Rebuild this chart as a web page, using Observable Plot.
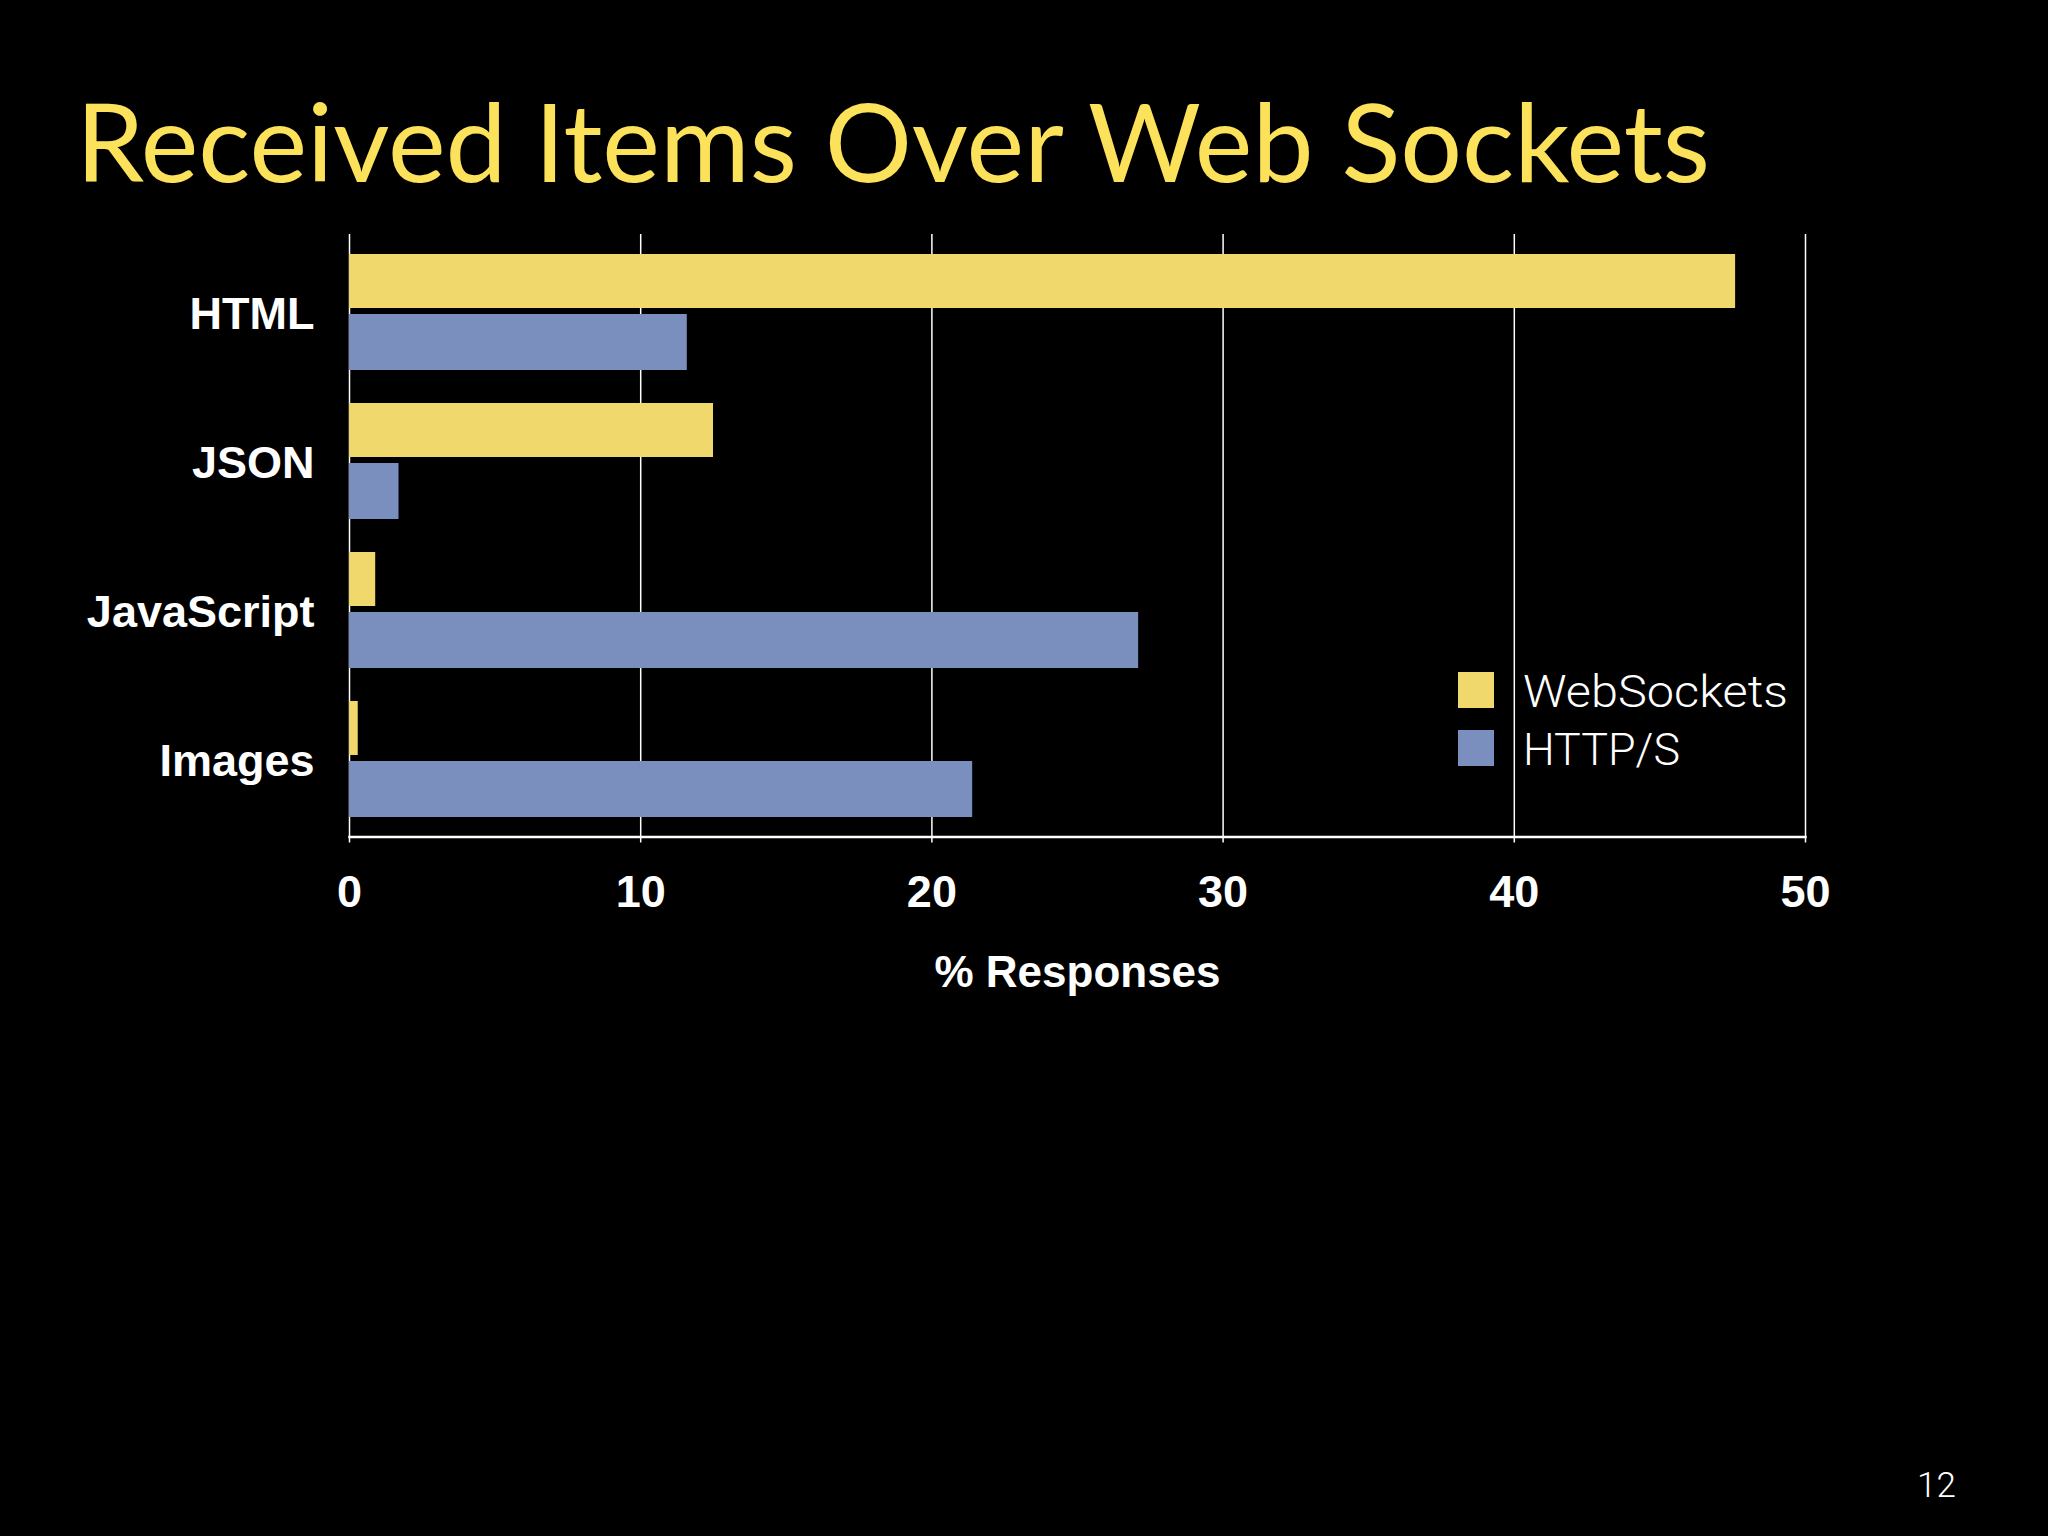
<!DOCTYPE html>
<html>
<head>
<meta charset="utf-8">
<script src="https://cdn.jsdelivr.net/npm/d3@7"></script>
<script src="https://cdn.jsdelivr.net/npm/@observablehq/plot@0.6"></script>
<style>
  html, body { margin: 0; padding: 0; background: #000; }
  #page { position: relative; width: 2048px; height: 1536px; background: #000; overflow: hidden; }
  #chart { position: absolute; left: 0; top: 200px; }
  #overlay { position: absolute; left: 0; top: 0; pointer-events: none; }
</style>
</head>
<body>
<div id="page">
  <div id="chart"></div>
  <svg id="overlay" width="2048" height="1536"></svg>
</div>
<script>
// ---- data ----
const categories = ["HTML", "JSON", "JavaScript", "Images"];
const webSockets = [47.6, 12.5, 0.9, 0.3];
const httpS = [11.6, 1.7, 27.1, 21.4];
const seriesNames = ["WebSockets", "HTTP/S"];
const xTicks = [0, 10, 20, 30, 40, 50];
const titleText = "Received Items Over Web Sockets";
const axisLabel = "% Responses";
const pageNumber = "12";

// ---- styles ----
const yellow = "#f1d86c";
const blue = "#7b8fbf";
const titleColor = "#fce25a";
const boldFont = "'Liberation Sans', Arial, Helvetica, sans-serif";

const wsRows = categories.map((c, i) => ({category: c, series: seriesNames[0], value: webSockets[i]}));
const httpRows = categories.map((c, i) => ({category: c, series: seriesNames[1], value: httpS[i]}));

const chart = Plot.plot({
  width: 2048,
  height: 820,
  marginLeft: 349,
  marginRight: 243,
  marginTop: 34,
  marginBottom: 183.5,
  style: {background: "#000", color: "#fff", fontFamily: boldFont, overflow: "visible"},
  x: {domain: [0, 50]},
  y: {domain: categories, paddingInner: 0.224, paddingOuter: 0.127, align: 0.5},
  marks: [
    Plot.ruleX(xTicks, {stroke: "#fff", strokeWidth: 1.5}),
    Plot.barX(wsRows, {y: "category", x: "value", fill: yellow, insetBottom: 62}),
    Plot.barX(httpRows, {y: "category", x: "value", fill: blue, insetTop: 60}),
    Plot.frame({anchor: "bottom", stroke: "#fff", strokeWidth: 2.5}),
    Plot.axisX({ticks: xTicks, tickSize: 6, tickPadding: 32, stroke: "#fff", strokeWidth: 1.5,
      fontSize: 45, fontWeight: "bold", label: null, tickFormat: d => String(d)}),
    Plot.axisY({tickSize: 0, tickPadding: 35, fontSize: 45, fontWeight: "bold", label: null, dy: 2}),
    Plot.text([axisLabel], {frameAnchor: "bottom", lineAnchor: "middle", dy: 136,
      fontSize: 44, fontWeight: "bold", fill: "#fff"})
  ]
});
document.getElementById("chart").appendChild(chart);

// ---- overlay: title, legend, page number ----
const ov = d3.select("#overlay");
ov.append("text")
  .attr("x", 76).attr("y", 181.7)
  .attr("fill", titleColor)
  .attr("font-family", "Lato, 'Open Sans', sans-serif")
  .attr("font-size", 108)
  .attr("textLength", 1634)
  .attr("lengthAdjust", "spacingAndGlyphs")
  .text(titleText);

const legendColors = [yellow, blue];
const legendWidths = [265, 157];
seriesNames.forEach((name, i) => {
  const y0 = 672 + i * 58;
  ov.append("rect").attr("x", 1458).attr("y", y0).attr("width", 36).attr("height", 36)
    .attr("fill", legendColors[i]);
  ov.append("text")
    .attr("x", 1523).attr("y", y0 + 35)
    .attr("fill", "#fff")
    .attr("font-family", "Roboto, 'Open Sans', sans-serif")
    .attr("font-weight", 300)
    .attr("font-size", 44)
    .attr("textLength", legendWidths[i])
    .attr("lengthAdjust", "spacingAndGlyphs")
    .text(name);
});

ov.append("text")
  .attr("x", 1917).attr("y", 1496.7)
  .attr("fill", "#fff")
  .attr("font-family", "Roboto, 'Open Sans', sans-serif")
  .attr("font-weight", 300)
  .attr("font-size", 35)
  .text(pageNumber);
</script>
</body>
</html>
